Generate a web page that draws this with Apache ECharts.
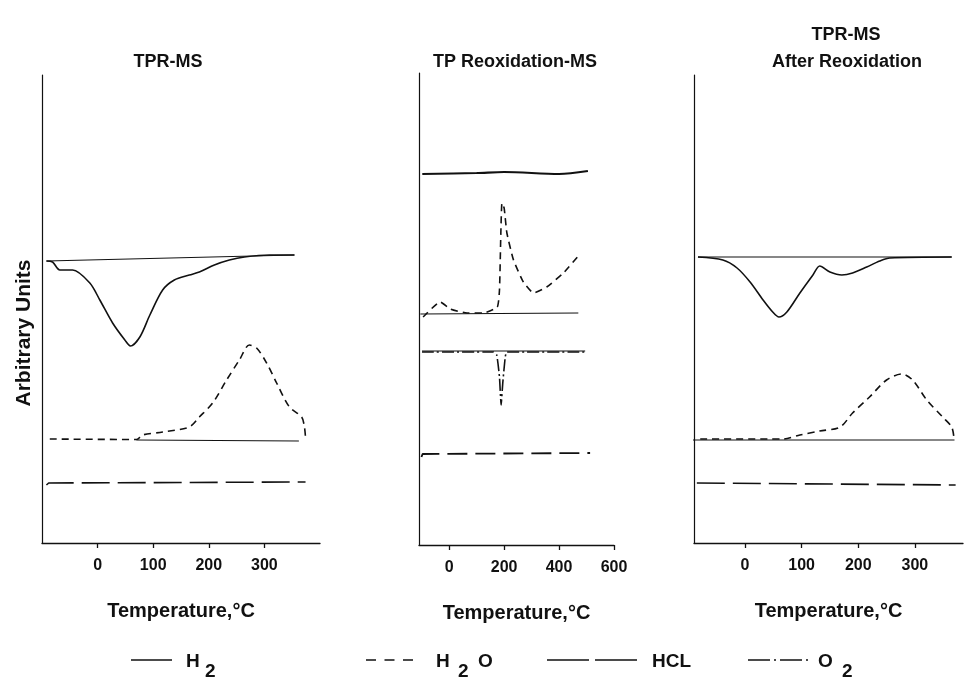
<!DOCTYPE html>
<html>
<head>
<meta charset="utf-8">
<script src="https://cdn.jsdelivr.net/npm/echarts@6/dist/echarts.min.js"></script>
<style>
html,body{margin:0;padding:0;background:#fff;}
#main{width:964px;height:681px;}
</style>
</head>
<body>
<div id="main"></div>
<script>
// data: [temperature °C, signal (arbitrary units)]
var ticksA = [0, 100, 200, 300];
var ticksB = [0, 200, 400, 600];

// panel 1 : TPR-MS
var p1H2 = [[-92,282],[-81,281],[-68,273],[-45,273],[-14,260],[4,243],[27,220],[49,203],[59,197],[76,206],[94,228],[117,253],[138,263],[165,268],[183,271],[210,278],[237,283],[264,286],[309,288],[354,288]];
var p1H2Base = [[-92,282],[354,288]];
var p1H2O = [[-86,104],[70,103.5],[81,108],[117,111],[165,116],[183,126],[207,140],[232,163],[255,183],[273,198],[286,195],[304,180],[322,160],[345,136],[367,126],[372,116],[374,105]];
var p1H2OBase = [[70,103],[362,102]];
var p1HCL = [[-92,58],[-88,60],[374,61]];

// panel 2 : TP Reoxidation-MS
var p2H2 = [[-98,371],[100,372],[200,373],[400,371],[505,374]];
var p2H2O = [[-95,228],[-33,243],[4,236],[65,232],[124,232],[175,238],[183,255],[188,312],[192,342],[200,337],[210,312],[234,285],[270,263],[307,252],[355,258],[416,272],[470,289]];
var p2H2OBase = [[-105,231],[470,232]];
var p2O2 = [[-99,193],[161,193],[173,190],[183,168],[189,140],[195,162],[204,188],[210,193],[495,193]];
var p2O2Base = [[-99,194],[495,194]];
var p2HCL = [[-101,88],[-97,91],[513,92]];

// panel 3 : TPR-MS after reoxidation
var p3H2 = [[-83,286],[-39,283],[-14,275],[9,261],[32,243],[49,231],[60,226],[74,231],[97,250],[120,268],[132,277],[150,271],[171,268],[190,270],[215,276],[238,282],[256,285],[365,286]];
var p3H2Base = [[-83,286],[365,286]];
var p3H2O = [[-79,104],[67,104],[97,108],[132,112],[168,116],[190,130],[220,146],[250,163],[277,169],[296,163],[321,143],[349,126],[365,116],[369,105]];
var p3H2OBase = [[-92,103],[370,103]];
var p3HCL = [[-85,60],[372,58]];

var FONT = '"Liberation Sans", Arial, sans-serif';
var INK = '#111';

var myChart = echarts.init(document.getElementById('main'));

function xAx(i, min, max, ticks){
    return {
        type:'value', gridIndex:i, min:min, max:max,
        axisLine:{onZero:false, lineStyle:{color:INK, width:1.3}},
        axisTick:{length:5, customValues:ticks, lineStyle:{color:INK, width:1.3}},
        axisLabel:{customValues:ticks, margin:15, color:INK, fontSize:16, fontWeight:'bold', fontFamily:FONT,
            formatter:function(v){ return ticks.indexOf(v) >= 0 ? String(v) : ''; }},
        splitLine:{show:false},
        name:'Temperature,°C', nameLocation:'middle', nameGap:58,
        nameTextStyle:{color:INK, fontSize:20, fontWeight:'bold', fontFamily:FONT}
    };
}
function yAx(i, max){
    return {
        type:'value', gridIndex:i, min:0, max:max,
        axisLine:{show:true, onZero:false, lineStyle:{color:INK, width:1.2}},
        axisTick:{show:false}, axisLabel:{show:false}, splitLine:{show:false}
    };
}
function ln(name, i, data, dash, w, smooth){
    return {
        name:name, type:'line', xAxisIndex:i, yAxisIndex:i, data:data,
        showSymbol:false, symbol:'none', smooth:smooth || false, animation:false,
        lineStyle:{color:INK, width:w || 1.5, type:dash || 'solid'}
    };
}

var dashH2O = [7,5], dashHCL = [28,8], dashO2 = [12,3,2,3];

var option = {
    backgroundColor:'#fff',
    grid:[
        {left:42, top:75, width:278, height:468},
        {left:419, top:73, width:195, height:472},
        {left:694, top:75, width:269, height:468}
    ],
    xAxis:[ xAx(0,-100,400,ticksA), xAx(1,-110,600,ticksB), xAx(2,-90,385,ticksA) ],
    yAxis:[ yAx(0,468), yAx(1,472), yAx(2,468) ],
    series:[
        ln('H2',0,p1H2,'solid',1.6,0.3),
        ln('H2 base',0,p1H2Base,'solid',1.2),
        ln('H2O',0,p1H2O,dashH2O,1.6,0.3),
        ln('H2O base',0,p1H2OBase,'solid',1.2),
        ln('HCL',0,p1HCL,dashHCL,1.6),

        ln('H2',1,p2H2,'solid',2.2,0.3),
        ln('H2O',1,p2H2O,dashH2O,1.6,0.15),
        ln('H2O base',1,p2H2OBase,'solid',1.2),
        ln('O2',1,p2O2,dashO2,1.6,0.15),
        ln('O2 base',1,p2O2Base,'solid',1.2),
        ln('HCL',1,p2HCL,[20,8],1.8),

        ln('H2',2,p3H2,'solid',1.6,0.3),
        ln('H2 base',2,p3H2Base,'solid',1.2),
        ln('H2O',2,p3H2O,dashH2O,1.6,0.3),
        ln('H2O base',2,p3H2OBase,'solid',1.2),
        ln('HCL',2,p3HCL,dashHCL,1.6)
    ],
    graphic:[
        {type:'text', x:168, y:62, style:{text:'TPR-MS', align:'center', verticalAlign:'middle', font:'bold 18px '+FONT, fill:INK}},
        {type:'text', x:515, y:62, style:{text:'TP Reoxidation-MS', align:'center', verticalAlign:'middle', font:'bold 18px '+FONT, fill:INK}},
        {type:'text', x:846, y:35, style:{text:'TPR-MS', align:'center', verticalAlign:'middle', font:'bold 18px '+FONT, fill:INK}},
        {type:'text', x:847, y:62, style:{text:'After Reoxidation', align:'center', verticalAlign:'middle', font:'bold 18px '+FONT, fill:INK}},
        {type:'text', x:24, y:333, rotation:Math.PI/2, style:{text:'Arbitrary Units', align:'center', verticalAlign:'middle', font:'bold 21px '+FONT, fill:INK}},

        // legend
        {type:'line', shape:{x1:131, y1:660, x2:172, y2:660}, style:{stroke:INK, lineWidth:1.6}},
        {type:'text', x:186, y:662, style:{text:'H', verticalAlign:'middle', font:'bold 19px '+FONT, fill:INK}},
        {type:'text', x:205, y:672, style:{text:'2', verticalAlign:'middle', font:'bold 19px '+FONT, fill:INK}},

        {type:'line', shape:{x1:366, y1:660, x2:413, y2:660}, style:{stroke:INK, lineWidth:1.6, lineDash:[10,8.5]}},
        {type:'text', x:436, y:662, style:{text:'H', verticalAlign:'middle', font:'bold 19px '+FONT, fill:INK}},
        {type:'text', x:458, y:672, style:{text:'2', verticalAlign:'middle', font:'bold 19px '+FONT, fill:INK}},
        {type:'text', x:478, y:662, style:{text:'O', verticalAlign:'middle', font:'bold 19px '+FONT, fill:INK}},

        {type:'line', shape:{x1:547, y1:660, x2:640, y2:660}, style:{stroke:INK, lineWidth:1.6, lineDash:[42,6]}},
        {type:'text', x:652, y:662, style:{text:'HCL', verticalAlign:'middle', font:'bold 19px '+FONT, fill:INK}},

        {type:'line', shape:{x1:748, y1:660, x2:808, y2:660}, style:{stroke:INK, lineWidth:1.6, lineDash:[22,4,2,4]}},
        {type:'text', x:818, y:662, style:{text:'O', verticalAlign:'middle', font:'bold 19px '+FONT, fill:INK}},
        {type:'text', x:842, y:672, style:{text:'2', verticalAlign:'middle', font:'bold 19px '+FONT, fill:INK}}
    ]
};
myChart.setOption(option);
</script>
</body>
</html>
